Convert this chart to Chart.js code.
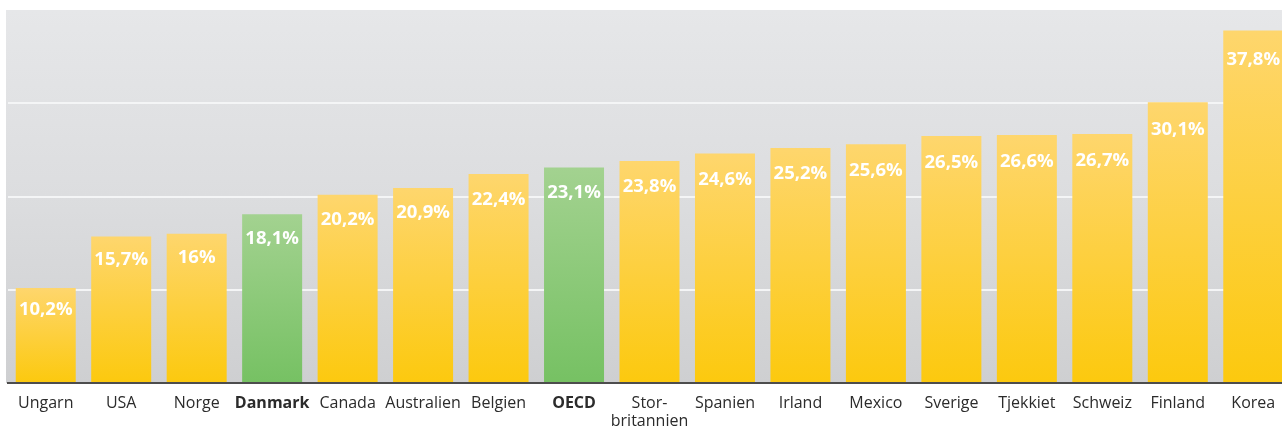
<!DOCTYPE html>
<html>
<head>
<meta charset="utf-8">
<script src="https://cdn.jsdelivr.net/npm/chart.js@4"></script>
<style>
html,body{margin:0;padding:0;background:#fff;overflow:hidden;}
#wrap{width:1291px;height:428px;}
</style>
</head>
<body>
<div id="wrap"><canvas id="c" width="1291" height="428"></canvas></div>
<script>
const categories = ['Ungarn','USA','Norge','Danmark','Canada','Australien','Belgien','OECD',['Stor-','britannien'],'Spanien','Irland','Mexico','Sverige','Tjekkiet','Schweiz','Finland','Korea'];
const values = [10.2,15.7,16,18.1,20.2,20.9,22.4,23.1,23.8,24.6,25.2,25.6,26.5,26.6,26.7,30.1,37.8];
const valueLabels = ['10,2%','15,7%','16%','18,1%','20,2%','20,9%','22,4%','23,1%','23,8%','24,6%','25,2%','25,6%','26,5%','26,6%','26,7%','30,1%','37,8%'];
const highlighted = ['Danmark','OECD'];

const FONT = '"Open Sans", "Noto Sans", sans-serif';
const isHi = i => highlighted.includes(categories[i]);

function barFill(ctx) {
  const chart = ctx.chart;
  const area = chart.chartArea;
  const hi = isHi(ctx.dataIndex);
  if (!area || !chart.scales.y) return hi ? '#8cc977' : '#fdd03a';
  const y = chart.scales.y;
  const top = y.getPixelForValue(values[ctx.dataIndex]);
  const bottom = y.getPixelForValue(0);
  const g = chart.ctx.createLinearGradient(0, top, 0, bottom);
  if (hi) {
    g.addColorStop(0, '#a3d290');
    g.addColorStop(1, '#76c163');
  } else {
    g.addColorStop(0, '#fed66d');
    g.addColorStop(1, '#fcc90e');
  }
  return g;
}

const bgPlugin = {
  id: 'bg',
  beforeDraw(chart) {
    const {ctx, chartArea: a} = chart;
    ctx.save();
    const g = ctx.createLinearGradient(0, a.top, 0, a.bottom);
    g.addColorStop(0, '#e6e7e9');
    g.addColorStop(0.5, '#dcdddf');
    g.addColorStop(1, '#cecfd1');
    ctx.fillStyle = g;
    ctx.fillRect(a.left - 2, a.top, a.right - a.left + 2, a.bottom - a.top);
    ctx.restore();
  }
};

const labelPlugin = {
  id: 'vlabels',
  afterDatasetsDraw(chart) {
    const {ctx} = chart;
    const meta = chart.getDatasetMeta(0);
    ctx.save();
    ctx.fillStyle = '#ffffff';
    ctx.font = 'bold 18.5px ' + FONT;
    ctx.textAlign = 'center';
    ctx.textBaseline = 'middle';
    meta.data.forEach((bar, i) => {
      const h = bar.base - bar.y;
      ctx.fillText(valueLabels[i], bar.x, bar.y + 19 + 0.03 * h);
    });
    ctx.restore();
  }
};

new Chart(document.getElementById('c'), {
  type: 'bar',
  data: {
    labels: categories,
    datasets: [{
      data: values,
      backgroundColor: barFill,
      borderWidth: 0,
      categoryPercentage: 1,
      barPercentage: 0.795
    }]
  },
  options: {
    responsive: false,
    animation: false,
    layout: {padding: {left: 8, top: 10, right: 0, bottom: 0}},
    plugins: {legend: {display: false}, tooltip: {enabled: false}},
    scales: {
      x: {
        grid: {display: false},
        border: {display: true, color: '#4d4d4d', width: 2},
        ticks: {
          color: '#2b2b2b',
          padding: 4,
          maxRotation: 0,
          autoSkip: false,
          font: ctx => ({family: FONT, size: 16, weight: isHi(ctx.index) ? 'bold' : 'normal', lineHeight: 1.1})
        },
        afterFit(scale) { scale.height = 45; }
      },
      y: {
        min: 0,
        max: 40,
        ticks: {display: false, stepSize: 10},
        border: {display: false},
        grid: {
          drawTicks: false,
          lineWidth: 2,
          color: ctx => (ctx.tick && ctx.tick.value > 0 && ctx.tick.value < 40) ? '#f4f5f6' : 'rgba(0,0,0,0)'
        },
        afterFit(scale) { scale.width = 0; }
      }
    }
  },
  plugins: [bgPlugin, labelPlugin]
});
</script>
</body>
</html>
